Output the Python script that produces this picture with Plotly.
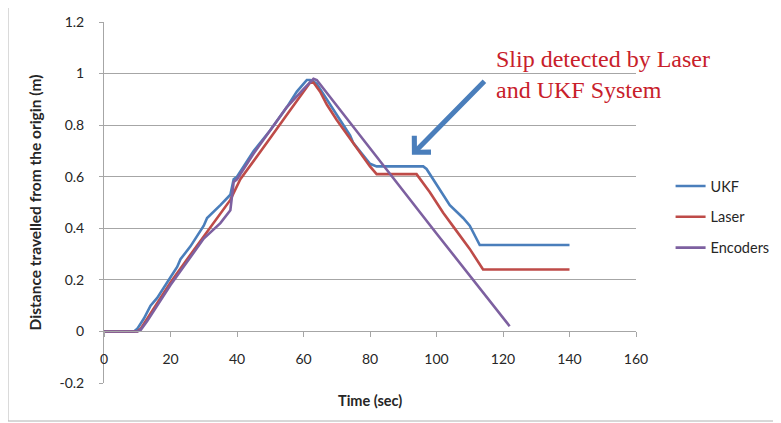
import plotly.graph_objects as go

# ---- data ----
ukf_t = [0, 9, 10, 12, 14, 16, 20, 22, 23, 26, 30, 31, 35, 38, 39, 40, 45, 50, 55, 58, 60, 61, 62, 63, 64, 66,
         70, 74, 75, 78, 80, 82, 90, 96, 97, 100, 104, 108, 110, 113, 120, 130, 140]
ukf_y = [0, 0, 0.01, 0.05, 0.10, 0.13, 0.21, 0.25, 0.28, 0.33, 0.41, 0.44, 0.49, 0.53, 0.59, 0.60, 0.70, 0.78,
         0.87, 0.93, 0.96, 0.975, 0.975, 0.97, 0.96, 0.92, 0.84, 0.76, 0.73, 0.68, 0.65, 0.64, 0.64, 0.64, 0.63,
         0.57, 0.49, 0.44, 0.41, 0.335, 0.335, 0.335, 0.335]

laser_t = [0, 10, 11, 14, 20, 25, 30, 35, 38, 41, 45, 50, 55, 60, 62, 63, 65, 67, 70, 75, 80, 82, 94, 98, 102,
           106, 110, 114, 120, 130, 140]
laser_y = [0, 0, 0.01, 0.07, 0.19, 0.28, 0.37, 0.46, 0.51, 0.59, 0.66, 0.75, 0.84, 0.93, 0.965, 0.965, 0.93,
           0.88, 0.82, 0.73, 0.64, 0.61, 0.61, 0.54, 0.46, 0.39, 0.32, 0.24, 0.24, 0.24, 0.24]

enc_t = [0, 10, 11, 13, 20, 25, 30, 35, 38, 39, 40, 45, 50, 55, 60, 63, 64, 80, 100, 122]
enc_y = [0, 0, 0.005, 0.04, 0.18, 0.27, 0.36, 0.42, 0.47, 0.58, 0.59, 0.69, 0.78, 0.87, 0.94, 0.98, 0.975,
         0.71, 0.38, 0.02]

x_ticks = [0, 20, 40, 60, 80, 100, 120, 140, 160]
y_ticks = [-0.2, 0, 0.2, 0.4, 0.6, 0.8, 1, 1.2]
y_tick_text = ["-0.2", "0", "0.2", "0.4", "0.6", "0.8", "1", "1.2"]

series = [
    ("UKF", ukf_t, ukf_y, "#4A7EBB"),
    ("Laser", laser_t, laser_y, "#BE4B48"),
    ("Encoders", enc_t, enc_y, "#7D60A0"),
]

FONT = "Lato"
GRID = "#A6A6A6"
TXT = "#262626"

fig = go.Figure()
for i, (name, t, y, c) in enumerate(series):
    fig.add_trace(go.Scatter(x=t, y=y, mode="lines", name=name, legendgroup=name,
                             line=dict(color=c, width=2.6)))

fig.update_layout(
    width=773, height=415,
    margin=dict(l=96, r=145, t=14, b=40, autoexpand=False),
    paper_bgcolor="white", plot_bgcolor="white",
    font=dict(family=FONT, size=14, color=TXT),
    showlegend=True,
    legend=dict(x=1.065, y=0.59, xanchor="left", yanchor="top", traceorder="grouped",
                tracegroupgap=9, font=dict(family=FONT, size=14.5, color=TXT),
                bgcolor="rgba(0,0,0,0)"),
    xaxis=dict(range=[0, 160], tickvals=x_ticks, showgrid=False, zeroline=False,
               anchor="free", position=0.2 / 1.4, showline=True, linecolor=GRID, linewidth=1,
               ticks="outside", ticklen=5, tickcolor=GRID, ticklabelstandoff=10,
               tickfont=dict(family=FONT, size=14, color=TXT)),
    yaxis=dict(range=[-0.2, 1.2], tickvals=y_ticks, ticktext=y_tick_text, showgrid=True,
               gridcolor=GRID, gridwidth=1, zeroline=False, showline=True, linecolor=GRID,
               linewidth=1, ticks="outside", ticklen=4, tickcolor=GRID, ticklabelstandoff=12,
               tickfont=dict(family=FONT, size=14, color=TXT),
               title=dict(text="<b>Distance travelled from the origin (m)</b>", standoff=14,
                          font=dict(family=FONT, size=15.5, color=TXT))),
    shapes=[
        dict(type="rect", xref="paper", yref="paper", x0=-0.1805, x1=1.2669, y0=-0.1053, y1=1.0499,
             line=dict(color="#B0B0B0", width=1), fillcolor="rgba(0,0,0,0)", layer="below"),
    ],
    annotations=[
        dict(text="<b>Time (sec)</b>", xref="paper", yref="paper", x=0.5, y=0, xanchor="center",
             yanchor="top", yshift=-7, showarrow=False,
             font=dict(family=FONT, size=14.5, color=TXT)),
        dict(text="Slip detected by Laser<br>and UKF System", xref="paper", yref="paper",
             x=(494 - 104) / 532, y=(383 - 44) / 361, xanchor="left", yanchor="top", align="left",
             showarrow=False, font=dict(family="Liberation Serif", size=24, color="#C8202A")),
        dict(text="", x=92.6, y=0.685, xref="x", yref="y", showarrow=True, ax=74, ay=-75,
             arrowhead=4, arrowwidth=5, arrowsize=0.9, arrowcolor="#4A7EBB"),
    ],
)

fig.write_html("out.html")
